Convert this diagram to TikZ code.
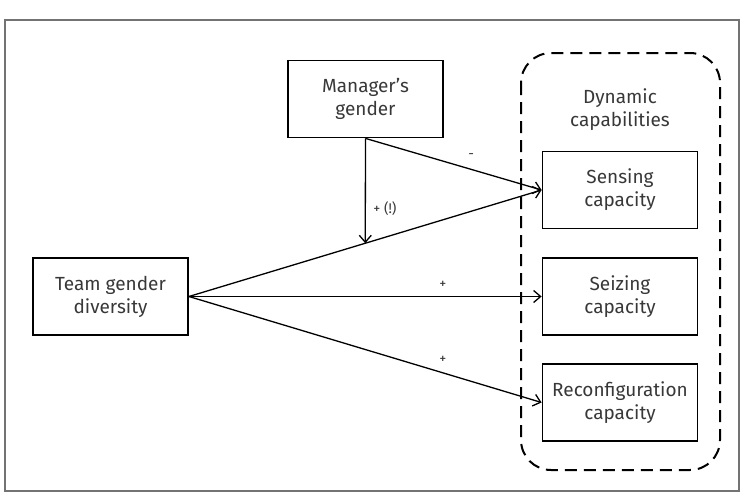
\documentclass[tikz,border=0pt]{standalone}
\usepackage{fontspec}
\setmainfont{Fira Sans}
\usetikzlibrary{arrows.meta}
\definecolor{framegray}{gray}{0.45}
\definecolor{textgray}{gray}{0.22}

\begin{document}
\begin{tikzpicture}[x=1pt,y=-1pt,
    box/.style={draw, line width=1.8pt, minimum width=155pt, minimum height=77pt, inner sep=0pt, align=center, text=textgray, font=\fontsize{19}{23}\selectfont},
    arr/.style={line width=1.3pt, -{Straight Barb[length=7pt,width=12pt,line width=1.3pt]}},
    lbl/.style={font=\fontsize{14}{16}\selectfont, text=textgray}]
    \useasboundingbox (0,0) rectangle (744,496);
    % frame
    \draw[framegray, line width=2pt] (5,20) rectangle (739,491);
    \draw[line width=2pt, dash pattern=on 12pt off 7pt, rounded corners=30pt] (521,53) rectangle (720,470);
    \node[text=textgray, align=center, font=\fontsize{19}{23}\selectfont] (dyncap) at (620,110) {Dynamic\\capabilities};

    % boxes
    \node[box] (manager) at (365.5,99) {Manager’s\\gender};
    \node[box] (team) at (110.5,296.5) {Team gender\\diversity};
    \node[box] (sensing) at (620,190) {Sensing\\capacity};
    \node[box] (seizing) at (620,296.5) {Seizing\\capacity};
    \node[box] (reconf) at (620,402.5) {Reconfiguration\\capacity};

    % arrows
    \draw[arr] (team.east) -- coordinate[pos=0.5] (modpt) (sensing.west);
    \draw[arr] (team.east) -- node[lbl, pos=0.72, above=4pt] (plusb) {+} (seizing.west);
    \draw[arr] (team.east) -- node[lbl, pos=0.72, above=5pt] (plusc) {+} (reconf.west);
    \draw[arr] (manager.south) -- node[lbl, pos=0.6, above=7pt] (minus) {-} (sensing.west);
    \draw[arr] (manager.south) -- node[lbl, pos=0.67, right=4pt] (plusa) {+ (!)} (modpt);
\end{tikzpicture}
\end{document}
